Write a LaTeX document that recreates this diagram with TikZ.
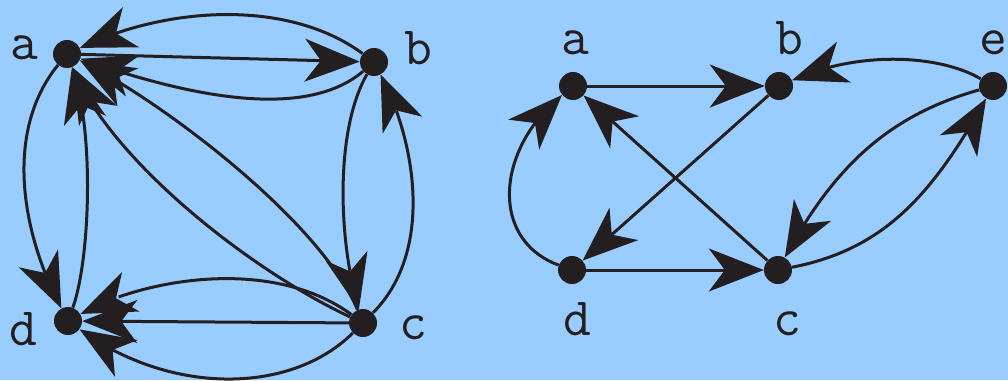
\documentclass[tikz,border=0pt]{standalone}
\usetikzlibrary{arrows.meta,bending}
\definecolor{bg}{RGB}{153,204,255}
\definecolor{ink}{RGB}{35,31,32}
\begin{document}
\begin{tikzpicture}[x=1pt,y=-1pt,
  dot/.style={circle,fill=ink,minimum size=28pt,inner sep=0pt},
  lab/.style={font=\ttfamily\fontsize{54}{54}\selectfont,text=ink,inner sep=0pt,anchor=base},
  conn/.style={draw=ink,line width=3pt,-{Stealth[length=55pt,width=43pt,inset=16pt]}}]
\fill[bg] (0,0) rectangle (1008,380);
\useasboundingbox (0,0) rectangle (1008,380);
% left graph
\node[dot] (a) at (67,54) {};
\node[dot] (b) at (374,62) {};
\node[dot] (c) at (363,323) {};
\node[dot] (d) at (68,321) {};
\node[lab] (la) at (24,59) {a};
\node[lab] (lb) at (418,64) {b};
\node[lab] (ld) at (23,345) {d};
\node[lab] (lc) at (413,339) {c};
\path[conn] (b) .. controls (290,0) and (170,5) .. (a);
\path[conn] (a) -- (b);
\path[conn] (b) .. controls (300,125) and (170,90) .. (a);
\path[conn] (a) .. controls (5,130) and (20,230) .. (d);
\path[conn] (d) .. controls (90,260) and (95,130) .. (a);
\path[conn] (c) .. controls (250,270) and (110,160) .. (a);
\path[conn] (c) .. controls (320,220) and (160,100) .. (a);
\path[conn] (b) .. controls (335,130) and (338,240) .. (c);
\path[conn] (c) .. controls (435,250) and (415,140) .. (b);
\path[conn] (c) .. controls (270,255) and (140,280) .. (d);
\path[conn] (c) -- (d);
\path[conn] (c) .. controls (290,395) and (170,395) .. (d);
% right graph
\node[dot] (ra) at (573,86) {};
\node[dot] (rb) at (779,86) {};
\node[dot] (re) at (993,86) {};
\node[dot] (rd) at (572,270) {};
\node[dot] (rc) at (778,270) {};
\node[lab] (lra) at (575,54) {a};
\node[lab] (lrb) at (789,54) {b};
\node[lab] (lre) at (993,54) {e};
\node[lab] (lrd) at (577,335) {d};
\node[lab] (lrc) at (787,335) {c};
\path[conn] (ra) -- (rb);
\path[conn] (rb) -- (rd);
\path[conn] (rc) -- (ra);
\path[conn] (rd) -- (rc);
\path[conn] (rd) .. controls (490,240) and (495,150) .. (ra);
\path[conn] (re) .. controls (940,55) and (860,50) .. (rb);
\path[conn] (re) .. controls (890,115) and (835,165) .. (rc);
\path[conn] (rc) .. controls (880,250) and (930,200) .. (re);
\end{tikzpicture}
\end{document}
